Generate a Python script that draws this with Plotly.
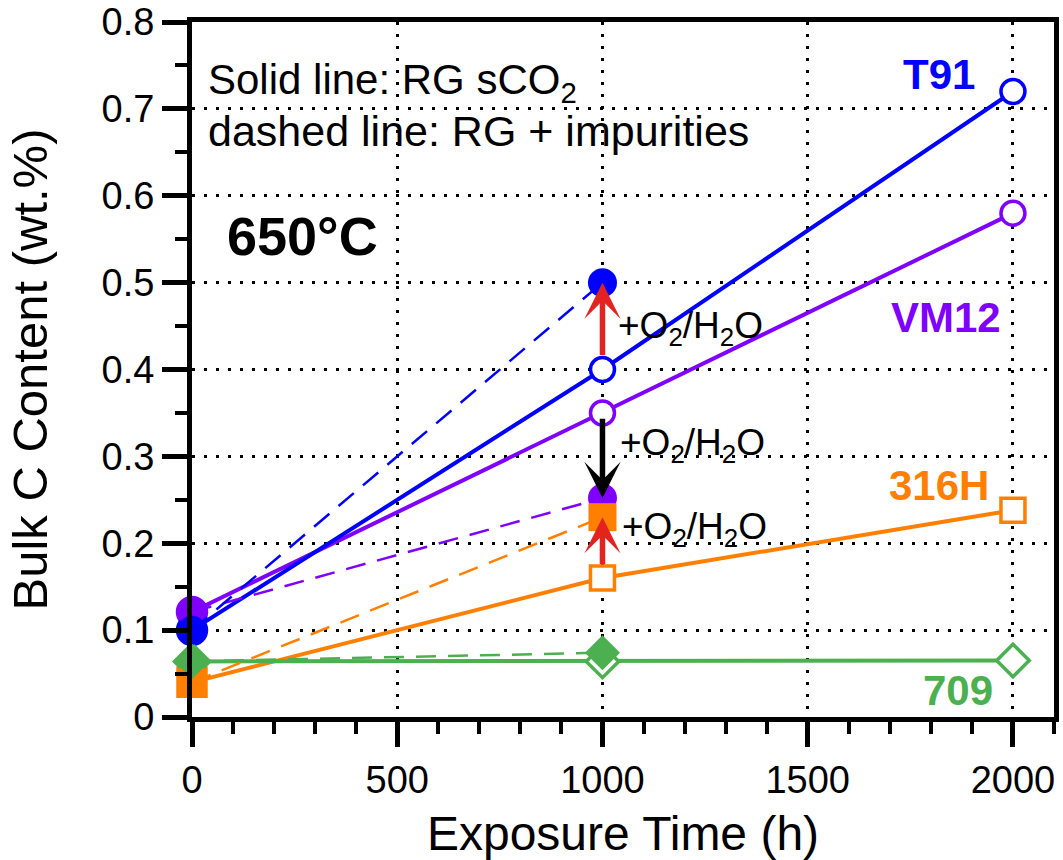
import plotly.graph_objects as go

# ---------------- data ----------------
time_rg = [0, 1000, 2000]          # RG sCO2 (solid lines)
time_imp = [0, 1000]               # RG + impurities (dashed lines)

t91_rg = [0.100, 0.400, 0.720]
t91_imp = [0.100, 0.500]
vm12_rg = [0.121, 0.350, 0.580]
vm12_imp = [0.121, 0.252]
h316_rg = [0.040, 0.160, 0.238]
h316_imp = [0.040, 0.230]
a709_rg = [0.064, 0.064, 0.065]
a709_imp = [0.064, 0.074]

materials = ["VM12", "T91", "316H", "709"]
colors = {"T91": "#0000FF", "VM12": "#7F00FF", "316H": "#FF8000", "709": "#4CAF50"}
symbols = {"T91": "circle", "VM12": "circle", "316H": "square", "709": "diamond"}
rg = {"T91": t91_rg, "VM12": vm12_rg, "316H": h316_rg, "709": a709_rg}
imp = {"T91": t91_imp, "VM12": vm12_imp, "316H": h316_imp, "709": a709_imp}

x_ticks = [0, 500, 1000, 1500, 2000]
y_ticks = [0, 0.1, 0.2, 0.3, 0.4, 0.5, 0.6, 0.7, 0.8]
y_ticklabels = ["0", "0.1", "0.2", "0.3", "0.4", "0.5", "0.6", "0.7", "0.8"]

FONT = "Liberation Sans, Arial, Helvetica, sans-serif"

fig = go.Figure()

def sizes(s):
    size_open = 25 if s == "diamond" else 24
    size_fill = 28 if s == "square" else (27 if s == "diamond" else 29)
    return size_open, size_fill

# solid: RG sCO2, open markers (first point filled)
for m in materials:
    c, s = colors[m], symbols[m]
    so, sf = sizes(s)
    fig.add_trace(go.Scatter(
        x=time_rg, y=rg[m], mode="lines+markers",
        line=dict(color=c, width=4),
        marker=dict(symbol=s, size=[sf, so, so], opacity=1,
                    color=[c, "white", "white"],
                    line=dict(color=c, width=3.5)),
        cliponaxis=False, showlegend=False, name=m))

# dashed: RG + impurities, filled markers
for m in materials:
    c, s = colors[m], symbols[m]
    so, sf = sizes(s)
    fig.add_trace(go.Scatter(
        x=time_imp, y=imp[m], mode="lines+markers",
        line=dict(color=c, width=2.5, dash="20px,12px"),
        marker=dict(symbol=s, size=sf, color=c, opacity=1, line=dict(color=c, width=0)),
        cliponaxis=False, showlegend=False, name=m + " imp"))

# ---------------- arrows ----------------
arrows = [
    (t91_rg[1] + 0.015, t91_imp[1], "#E32222"),
    (vm12_rg[1] - 0.005, vm12_imp[1], "black"),
    (h316_rg[1] + 0.014, h316_imp[1], "#E32222"),
]
for base, tip, col in arrows:
    fig.add_annotation(x=1000, y=tip, ax=1000, ay=base, xref="x", yref="y",
                       axref="x", ayref="y", text="", showarrow=True,
                       arrowhead=3, arrowsize=1.1, arrowwidth=5.5, arrowcolor=col)

# ---------------- texts ----------------
def txt(x, y, s, size, color="black", bold=False, xanchor="left"):
    fig.add_annotation(x=x, y=y, xref="x", yref="y", text=("<b>%s</b>" % s) if bold else s,
                       showarrow=False, xanchor=xanchor, yanchor="middle",
                       font=dict(family=FONT, size=size, color=color))

txt(35, 0.730, "Solid line: RG sCO<sub>2</sub>", 42)
txt(35, 0.675, "dashed line: RG + impurities", 43)
txt(268, 0.554, "650°C", 54, bold=True, xanchor="center")
txt(1033, 0.448, "+O<sub>2</sub>/H<sub>2</sub>O", 37)
txt(1038, 0.313, "+O<sub>2</sub>/H<sub>2</sub>O", 37)
txt(1043, 0.216, "+O<sub>2</sub>/H<sub>2</sub>O", 37)
txt(1820, 0.740, "T91", 42, colors["T91"], True, "center")
txt(1836, 0.460, "VM12", 42, colors["VM12"], True, "center")
txt(1819, 0.266, "316H", 42, colors["316H"], True, "center")
txt(1865, 0.031, "709", 42, colors["709"], True, "center")

axis_common = dict(
    showline=True, linecolor="black", linewidth=5, mirror=True,
    ticks="outside", ticklen=25, tickwidth=5, tickcolor="black",
    showgrid=True, gridcolor="black", gridwidth=3, griddash="3px,9px",
    zeroline=False, automargin=False,
    tickfont=dict(family=FONT, size=38, color="black"),
)

fig.update_layout(
    width=1063, height=860,
    margin=dict(l=192, r=9, t=22, b=143),
    plot_bgcolor="white", paper_bgcolor="white",
    font=dict(family=FONT, color="black"),
    xaxis=dict(range=[0, 2100], tickvals=x_ticks,
               minor=dict(dtick=100, tick0=0, ticks="outside", ticklen=12, tickwidth=4,
                          tickcolor="black", showgrid=False),
               title=dict(text="Exposure Time (h)", font=dict(family=FONT, size=48),
                          standoff=30),
               **axis_common),
    yaxis=dict(range=[0, 0.8], tickvals=y_ticks, ticktext=y_ticklabels,
               minor=dict(dtick=0.05, tick0=0, ticks="outside", ticklen=12, tickwidth=4,
                          tickcolor="black", showgrid=False),
               title=dict(text="Bulk C Content (wt.%)", font=dict(family=FONT, size=49),
                          standoff=40),
               **axis_common),
)

fig.write_html("out.html")
